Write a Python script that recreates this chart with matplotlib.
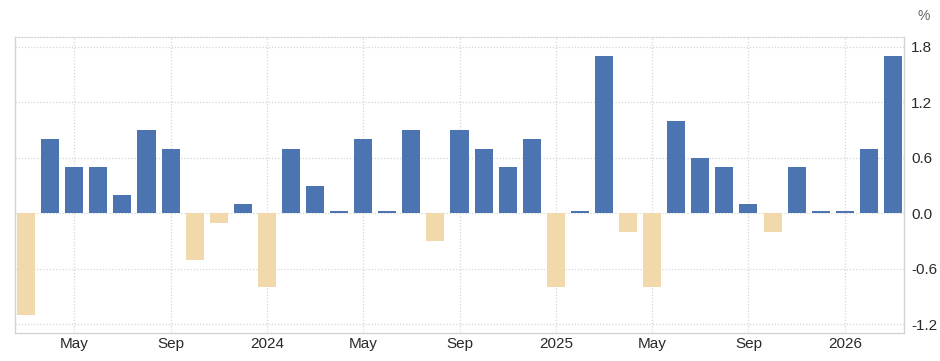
import numpy as np
import pandas as pd
import matplotlib.pyplot as plt

plt.rcParams["font.family"] = ["Liberation Sans", "DejaVu Sans"]

# monthly change, % (Mar 2023 .. Mar 2026)
months = pd.date_range("2023-03-01", periods=37, freq="MS")
values = [-1.1, 0.8, 0.5, 0.5, 0.2, 0.9, 0.7, -0.5, -0.1, 0.1,
          -0.8, 0.7, 0.3, 0.03, 0.8, 0.03, 0.9, -0.3, 0.9, 0.7, 0.5, 0.8,
          -0.8, 0.03, 1.7, -0.2, -0.8, 1.0, 0.6, 0.5, 0.1, -0.2, 0.5, 0.03,
          0.03, 0.7, 1.7]
yticks = [-1.2, -0.6, 0.0, 0.6, 1.2, 1.8]

BLUE = "#4c74b1"
TAN = "#f1d9ab"
GRID = "#d6d6d6"
TXT = "#2a2a2a"

x = np.arange(len(values))
vals = np.array(values)
colors = [BLUE if v >= 0 else TAN for v in vals]

# tick every 4 months, year label in January
tick_idx = [i for i, m in enumerate(months) if m.month in (1, 5, 9)]
tick_lab = [str(months[i].year) if months[i].month == 1 else months[i].strftime("%b")
            for i in tick_idx]

fig = plt.figure(figsize=(9.4, 3.61), dpi=100)
ax = fig.add_axes([0.016, 0.077, 0.9457, 0.821])

ax.bar(x, vals, width=0.75, color=colors, zorder=3)

ax.set_xlim(-0.46, len(values) - 0.54)
ax.set_ylim(-1.296, 1.907)

ax.set_xticks(tick_idx)
ax.set_xticklabels(tick_lab)
ax.set_yticks(yticks)
ax.set_yticklabels([f"{t:.1f}" for t in yticks])
ax.yaxis.tick_right()

ax.tick_params(axis="both", length=0, labelsize=11, labelcolor=TXT)
ax.tick_params(axis="x", pad=3)
ax.tick_params(axis="y", pad=5)
for lab in ax.get_yticklabels():
    lab.set_horizontalalignment("left")

ax.grid(True, color=GRID, linestyle=(0, (1, 1.5)), linewidth=0.9, zorder=0)

for s in ("left", "right", "bottom"):
    ax.spines[s].set_color("#d4d4d4")
    ax.spines[s].set_linewidth(1.0)
ax.spines["top"].set_color(GRID)
ax.spines["top"].set_linestyle((0, (1, 1.5)))
ax.spines["top"].set_linewidth(0.9)

fig.text(0.983, 0.955, "%", ha="center", va="center", fontsize=10, color="#666666")

fig.savefig("out.png", dpi=100)
